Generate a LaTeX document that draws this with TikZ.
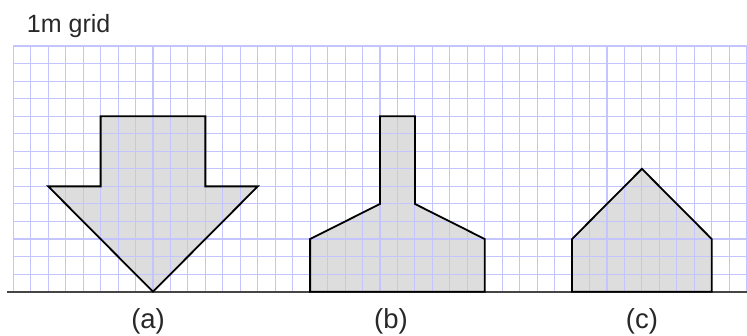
\documentclass[tikz,border=0pt]{standalone}
\usepackage{fontspec}
\setmainfont{Liberation Sans}
\definecolor{gridblue}{RGB}{196,196,255}
\definecolor{shapefill}{RGB}{221,221,221}
\definecolor{groundgrey}{RGB}{70,70,70}
\definecolor{textgrey}{RGB}{40,40,40}
\tikzset{
  gridline/.style={draw=gridblue, line width=1.1pt},
  outline/.style={draw=black, line width=1.8pt, line join=miter},
  shapebody/.style={fill=shapefill},
  caption/.style={text=textgrey, font=\fontsize{27.5}{32}\selectfont, inner sep=0pt},
}
\begin{document}
\begin{tikzpicture}[x=17.46pt, y=17.55pt]
\useasboundingbox (-0.762,-2.524) rectangle (42.02,16.62);
% fills beneath the grid
\fill[shapebody] (2,6) -- (5,6) -- (5,10) -- (11,10) -- (11,6) -- (14,6) -- (8,0) -- cycle;
\fill[shapebody] (17,0) -- (17,3) -- (21,5) -- (21,10) -- (23,10) -- (23,5) -- (27,3) -- (27,0) -- cycle;
\fill[shapebody] (32,0) -- (32,3) -- (36,7) -- (40,3) -- (40,0) -- cycle;
% grid
\foreach \i in {0,...,42} \draw[gridline] (\i,0) -- (\i,14);
\foreach \j in {0,...,14} \draw[gridline] (0,\j) -- (42,\j);
% ground
\coordinate (gl) at (-0.36,0);
\coordinate (gr) at (42.02,0);
\draw[draw=groundgrey, line width=2pt] (gl) -- (gr);
% outlines
\draw[outline] (2,6) -- (5,6) -- (5,10) -- (11,10) -- (11,6) -- (14,6) -- (8,0) -- cycle;
\draw[outline] (17,0) -- (17,3) -- (21,5) -- (21,10) -- (23,10) -- (23,5) -- (27,3) -- (27,0) -- cycle;
\draw[outline] (32,0) -- (32,3) -- (36,7) -- (40,3) -- (40,0) -- cycle;
% texts
\node[text=textgrey, font=\fontsize{25}{29}\selectfont, inner sep=0pt, anchor=base west] (title) at (0.77,14.78) {1m grid};
\node[caption] (la) at (7.72,-1.67) {(a)};
\node[caption] (lb) at (21.63,-1.67) {(b)};
\node[caption] (lc) at (36.0,-1.67) {(c)};
\end{tikzpicture}
\end{document}
